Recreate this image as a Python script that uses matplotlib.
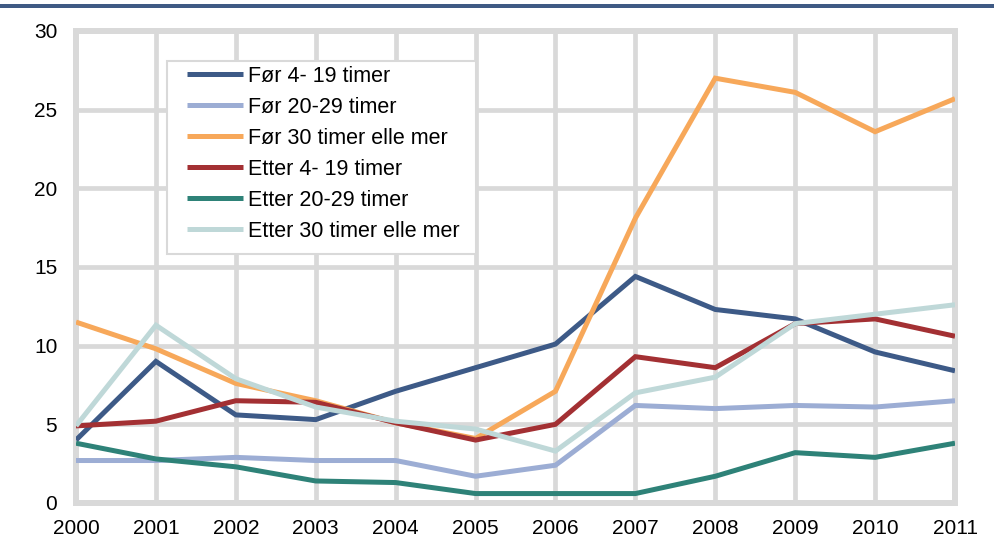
import matplotlib
matplotlib.use("Agg")
import matplotlib.pyplot as plt
from matplotlib.patches import Rectangle

plt.rcParams['font.family'] = ['Liberation Sans', 'DejaVu Sans']

years = [2000, 2001, 2002, 2003, 2004, 2005, 2006, 2007, 2008, 2009, 2010, 2011]
labels = ["Før 4- 19 timer", "Før 20-29 timer", "Før 30 timer elle mer",
          "Etter 4- 19 timer", "Etter 20-29 timer", "Etter 30 timer elle mer"]
for_4_19 = [4.0, 9.0, 5.6, 5.3, 7.1, 8.6, 10.1, 14.4, 12.3, 11.7, 9.6, 8.4]
for_20_29 = [2.7, 2.7, 2.9, 2.7, 2.7, 1.7, 2.4, 6.2, 6.0, 6.2, 6.1, 6.5]
for_30 = [11.5, 9.8, 7.6, 6.5, 5.1, 4.1, 7.1, 18.1, 27.0, 26.1, 23.6, 25.7]
etter_4_19 = [4.9, 5.2, 6.5, 6.4, 5.1, 4.0, 5.0, 9.3, 8.6, 11.4, 11.7, 10.6]
etter_20_29 = [3.8, 2.8, 2.3, 1.4, 1.3, 0.6, 0.6, 0.6, 1.7, 3.2, 2.9, 3.8]
etter_30 = [4.9, 11.3, 7.9, 6.1, 5.2, 4.7, 3.3, 7.0, 8.0, 11.4, 12.0, 12.6]
yticks = [0, 5, 10, 15, 20, 25, 30]

series = [for_4_19, for_20_29, for_30, etter_4_19, etter_20_29, etter_30]
colors = ["#3d5a87", "#9cadd4", "#f7a85a", "#a33033", "#2e8278", "#bfd8d8"]

W, H = 995, 538
fig = plt.figure(figsize=(W / 100, H / 100), dpi=100)
L, R, T, B = 76, 955, 31, 503
ax = fig.add_axes([L / W, 1 - B / H, (R - L) / W, (B - T) / H])

grid_c = "#d9d9d9"
for yv in yticks:
    ax.axhline(yv, color=grid_c, lw=3.4, zorder=1)
for xv in years:
    ax.axvline(xv, color=grid_c, lw=3.4, zorder=1)
for sp in ax.spines.values():
    sp.set_color(grid_c)
    sp.set_linewidth(4.3)
    sp.set_zorder(1)

handles = []
for vals, c, lab in zip(series, colors, labels):
    h, = ax.plot(years, vals, color=c, lw=3.6, label=lab, zorder=3,
                 solid_joinstyle='miter', solid_capstyle='butt')
    handles.append(h)

ax.set_xlim(2000, 2011)
ax.set_ylim(0, 30)
ax.set_xticks(years)
ax.set_xticklabels([str(y) for y in years])
ax.set_yticks(yticks)
ax.tick_params(axis='both', length=0, labelsize=15, colors='black')
ax.tick_params(axis='y', pad=13.5)
ax.tick_params(axis='x', pad=11.5)

# legend box
lx0, ly0, lx1, ly1 = 167, 61, 476, 254
fig.add_artist(Rectangle((lx0 / W, 1 - ly1 / H), (lx1 - lx0) / W, (ly1 - ly0) / H,
                         transform=fig.transFigure, facecolor='white',
                         edgecolor=grid_c, lw=1.5, zorder=4))
leg = fig.legend(handles=handles, labels=labels, loc='upper left',
                 bbox_to_anchor=(187 / W, 1 - 66 / H),
                 frameon=False, fontsize=15.5, handlelength=2.6,
                 handletextpad=0.23, labelspacing=0.46, borderpad=0.0,
                 borderaxespad=0.0)
leg.set_zorder(5)

# top rule
fig.add_artist(Rectangle((0, 1 - 8 / H), 1, 3.5 / H, transform=fig.transFigure,
                         facecolor="#3f5a84", edgecolor='none'))

fig.savefig("out.png", dpi=100)
